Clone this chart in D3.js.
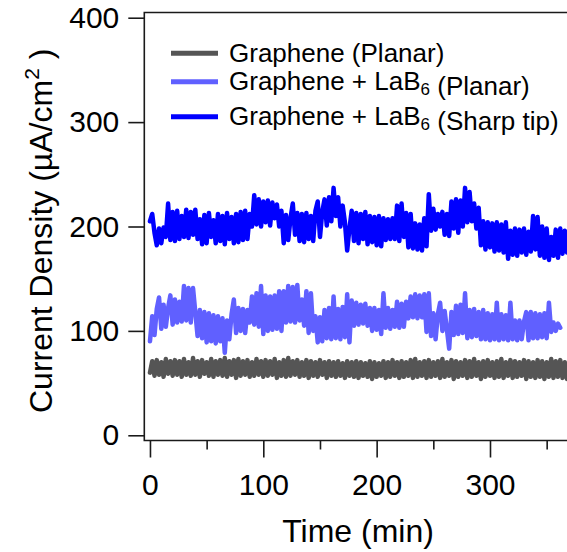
<!DOCTYPE html>
<html>
<head>
<meta charset="utf-8">
<script src="https://cdn.jsdelivr.net/npm/d3@7"></script>
<style>
  html, body { margin: 0; padding: 0; background: #fff; }
  svg { display: block; font-family: "Liberation Sans", Arial, sans-serif; }
</style>
</head>
<body>
<svg id="chart" width="567" height="552"></svg>
<script>
// Sampling interval of the current-density logs (minutes)
const timeStep = 2;

// Current density (µA/cm²), one reading every timeStep minutes from t = 0
const sharpTip = [
  205, 212, 194, 182, 198, 184, 199, 190, 222, 187,
  214, 186, 215, 188, 210, 190, 216, 189, 214, 192,
  216, 188, 207, 183, 211, 184, 213, 190, 206, 184,
  212, 186, 210, 183, 213, 188, 209, 184, 212, 185,
  214, 187, 215, 188, 212, 200, 230, 202, 226, 200,
  224, 204, 225, 201, 223, 208, 221, 200, 215, 184,
  211, 187, 208, 222, 192, 213, 186, 212, 185, 213,
  188, 210, 186, 215, 224, 190, 214, 226, 201, 228,
  205, 237, 210, 228, 200, 220, 204, 177, 198, 215,
  186, 213, 184, 212, 188, 214, 183, 210, 185, 209,
  182, 210, 181, 208, 187, 207, 188, 208, 188, 220,
  186, 222, 190, 213, 180, 212, 179, 203, 178, 202,
  177, 208, 181, 231, 196, 217, 197, 212, 200, 214,
  192, 212, 191, 224, 198, 226, 194, 225, 200, 237,
  204, 233, 205, 222, 198, 218, 182, 205, 178, 204,
  180, 203, 176, 204, 177, 202, 175, 204, 169, 196,
  173, 198, 172, 197, 175, 198, 173, 195, 176, 210,
  178, 209, 172, 200, 170, 198, 168, 190, 172, 197,
  170, 198, 174, 196, 175
];

const lab6Planar = [
  90, 114, 96, 121, 132, 102, 125, 104, 122, 134,
  106, 130, 108, 128, 109, 143, 110, 141, 108, 141,
  118, 95, 120, 93, 118, 89, 117, 90, 115, 88,
  114, 90, 112, 79, 110, 92, 116, 130, 98, 122,
  100, 121, 98, 120, 108, 133, 106, 136, 104, 143,
  97, 134, 100, 133, 101, 134, 102, 138, 100, 138,
  108, 143, 109, 142, 108, 144, 110, 130, 105, 138,
  98, 136, 100, 114, 89, 113, 90, 120, 93, 122,
  92, 133, 93, 121, 92, 123, 94, 135, 89, 129,
  105, 127, 106, 125, 107, 126, 105, 122, 100, 122,
  101, 120, 97, 136, 103, 122, 102, 120, 104, 128,
  103, 126, 104, 128, 112, 133, 113, 135, 112, 134,
  113, 135, 99, 136, 95, 117, 92, 116, 127, 100,
  119, 101, 83, 118, 96, 124, 97, 125, 98, 136,
  93, 120, 94, 121, 95, 118, 92, 120, 92, 117,
  91, 116, 92, 127, 91, 116, 92, 115, 91, 127,
  92, 110, 91, 110, 92, 109, 118, 91, 118, 93,
  117, 93, 116, 94, 117, 93, 127, 99, 108, 100,
  107, 103
];

const graphenePlanar = [
  60, 71, 57, 72, 58, 70, 56, 73, 59, 71,
  57, 72, 58, 71, 56, 73, 58, 70, 57, 74,
  58, 71, 56, 72, 59, 70, 57, 73, 56, 71,
  58, 72, 57, 74, 56, 71, 58, 72, 55, 73,
  57, 71, 58, 72, 56, 70, 57, 73, 58, 71,
  56, 72, 57, 71, 58, 73, 55, 70, 57, 72,
  56, 74, 57, 71, 58, 72, 56, 70, 57, 72,
  55, 71, 57, 70, 56, 72, 58, 70, 55, 71,
  57, 70, 56, 71, 57, 69, 55, 71, 57, 70,
  56, 71, 55, 70, 57, 69, 56, 71, 54, 70,
  56, 69, 57, 71, 55, 70, 56, 72, 57, 70,
  55, 71, 56, 70, 57, 72, 55, 73, 56, 70,
  57, 71, 55, 72, 56, 70, 57, 71, 55, 73,
  56, 70, 57, 72, 54, 71, 56, 70, 57, 72,
  55, 71, 56, 73, 57, 70, 54, 71, 56, 72,
  57, 70, 55, 71, 56, 73, 55, 70, 57, 72,
  55, 71, 56, 70, 57, 72, 54, 71, 56, 70,
  55, 72, 56, 71, 54, 70, 56, 73, 55, 71,
  56, 72, 55, 70, 54
];

const xTicks = [0, 100, 200, 300];
const xMinorTicks = [50, 150, 250, 350];
const yTicks = [0, 100, 200, 300, 400];

const seriesNames = ["Graphene (Planar)", "Graphene + LaB6 (Planar)", "Graphene + LaB6 (Sharp tip)"];
const seriesColors = ["#555555", "#6060ff", "#0000ff"];

const svg = d3.select("#chart");

// Plot frame: the right edge sits just past the window edge
const x = d3.scaleLinear().domain([-5, 372]).range([144.3, 571.6]);
const y = d3.scaleLinear().domain([-5, 405]).range([440.5, 12.5]);

const series = [graphenePlanar, lab6Planar, sharpTip].map((vals, i) => ({
  name: seriesNames[i],
  color: seriesColors[i],
  points: vals.map((v, k) => [k * timeStep, v])
}));

svg.append("clipPath").attr("id", "plotClip")
  .append("rect")
  .attr("x", x(-5)).attr("y", y(405))
  .attr("width", x(372) - x(-5)).attr("height", y(-5) - y(405));

const line = d3.line().x(d => x(d[0])).y(d => y(d[1]));

const plot = svg.append("g").attr("clip-path", "url(#plotClip)");
plot.selectAll("path.series")
  .data(series)
  .join("path")
  .attr("class", "series")
  .attr("d", d => line(d.points))
  .attr("fill", "none")
  .attr("stroke", d => d.color)
  .attr("stroke-width", 4.5)
  .attr("stroke-linejoin", "round")
  .attr("stroke-linecap", "round");

// Frame (left, top, bottom)
const frame = svg.append("g").attr("stroke", "#1a1a1a").attr("stroke-width", 1.6).attr("fill", "none");
frame.append("path")
  .attr("d", `M${x(372)},${y(405)}H${x(-5)}V${y(-5)}H${x(372)}`);

// Y axis: ticks pointing left, outside the frame
const yAxis = d3.axisLeft(y).tickValues(yTicks).tickSize(16).tickPadding(9).tickFormat(d3.format("d"));
const gy = svg.append("g").attr("transform", `translate(${x(-5)},0)`).call(yAxis);
gy.select(".domain").remove();
gy.selectAll(".tick line").attr("stroke", "#1a1a1a").attr("stroke-width", 1.6);
gy.selectAll(".tick text").attr("font-size", 30).attr("fill", "#000")
  .attr("font-family", "Liberation Sans, Arial, sans-serif");

// X axis: major and minor ticks hanging below the frame
const xAxis = d3.axisBottom(x).tickValues(xTicks).tickSize(17).tickPadding(16).tickFormat(d3.format("d"));
const gx = svg.append("g").attr("transform", `translate(0,${y(-5)})`).call(xAxis);
gx.select(".domain").remove();
gx.selectAll(".tick line").attr("stroke", "#1a1a1a").attr("stroke-width", 1.6);
gx.selectAll(".tick text").attr("font-size", 30).attr("fill", "#000")
  .attr("font-family", "Liberation Sans, Arial, sans-serif");

const xMinor = d3.axisBottom(x).tickValues(xMinorTicks).tickSize(9).tickFormat("");
const gxm = svg.append("g").attr("transform", `translate(0,${y(-5)})`).call(xMinor);
gxm.select(".domain").remove();
gxm.selectAll(".tick line").attr("stroke", "#1a1a1a").attr("stroke-width", 1.6);

// Axis titles
svg.append("text")
  .attr("x", 358).attr("y", 541.5)
  .attr("text-anchor", "middle")
  .attr("font-size", 32)
  .text("Time (min)");

const yTitle = svg.append("text")
  .attr("transform", "translate(52,413) rotate(-90)")
  .attr("font-size", 32);
yTitle.append("tspan").text("Current Density (µA/cm");
yTitle.append("tspan").attr("font-size", 21).attr("dy", -13).text("2");
yTitle.append("tspan").attr("dy", 13).text(" )");

// Legend
const legendRows = [
  { lineY: 53.3, textY: 61.7, main: "Graphene (Planar)", sub: null, tail: null },
  { lineY: 81.7, textY: 90, main: "Graphene + LaB", sub: "6", tail: " (Planar)" },
  { lineY: 116.7, textY: 125, main: "Graphene + LaB", sub: "6", tail: " (Sharp tip)" }
];
const legend = svg.append("g");
legendRows.forEach((r, i) => {
  legend.append("line")
    .attr("x1", 171).attr("x2", 218)
    .attr("y1", r.lineY).attr("y2", r.lineY)
    .attr("stroke", seriesColors[i]).attr("stroke-width", 5);
  const t = legend.append("text").attr("x", 229).attr("y", r.textY).attr("font-size", 26);
  t.append("tspan").text(r.main);
  if (r.sub) {
    t.append("tspan").attr("font-size", 17).attr("dy", 5).text(r.sub);
    t.append("tspan").text(r.tail);
  }
});
</script>
</body>
</html>
